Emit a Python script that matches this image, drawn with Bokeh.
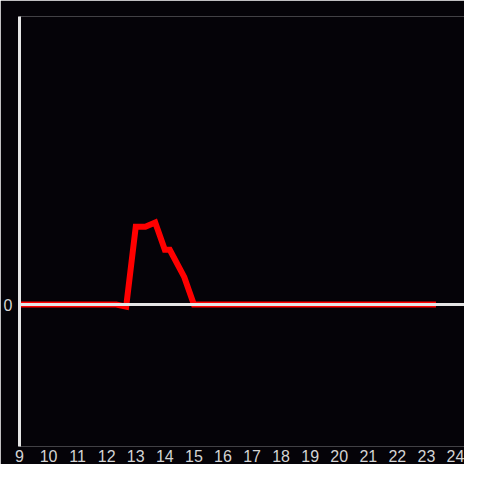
from bokeh.plotting import figure
from bokeh.models import Range1d, FixedTicker, Span
from bokeh.embed import file_html
from bokeh.resources import INLINE

hours = [9.0, 12.33, 12.67, 13.0, 13.33, 13.67, 14.0, 14.17, 14.67, 15.0, 23.33]
values = [0.0, 0.0, -0.015, 0.54, 0.54, 0.57, 0.38, 0.38, 0.19, 0.0, 0.0]
x_ticks = list(range(9, 25))
y_ticks = [0]

BG = "#050308"
AXIS = "#e6e6e6"
LABEL = "#d4d4d4"

p = figure(width=464, height=464, output_backend="svg", toolbar_location=None,
           x_range=Range1d(9, 24.31), y_range=Range1d(-0.986, 2),
           min_border_left=0, min_border_right=0, min_border_top=16, min_border_bottom=0)
p.background_fill_color = BG
p.border_fill_color = BG
p.outline_line_color = None
p.grid.visible = False

p.xaxis.ticker = FixedTicker(ticks=x_ticks)
p.yaxis.ticker = FixedTicker(ticks=y_ticks)
for ax in (p.xaxis, p.yaxis):
    ax.major_tick_out = 0
    ax.major_tick_in = 0
    ax.minor_tick_out = 0
    ax.minor_tick_in = 0
    ax.major_label_text_color = LABEL
    ax.major_label_text_font = "Liberation Sans"
    ax.major_label_text_font_size = "16px"
p.xaxis.axis_line_color = None
p.xaxis.major_label_standoff = 3
p.yaxis.axis_line_color = AXIS
p.yaxis.axis_line_width = 3
p.yaxis.major_label_standoff = 7

p.add_layout(Span(location=0, dimension="width", line_color=AXIS, line_width=3))
p.line(hours, values, line_color="#ff0000", line_width=6, line_join="miter")

open("out.html", "w").write(file_html(p, INLINE))
